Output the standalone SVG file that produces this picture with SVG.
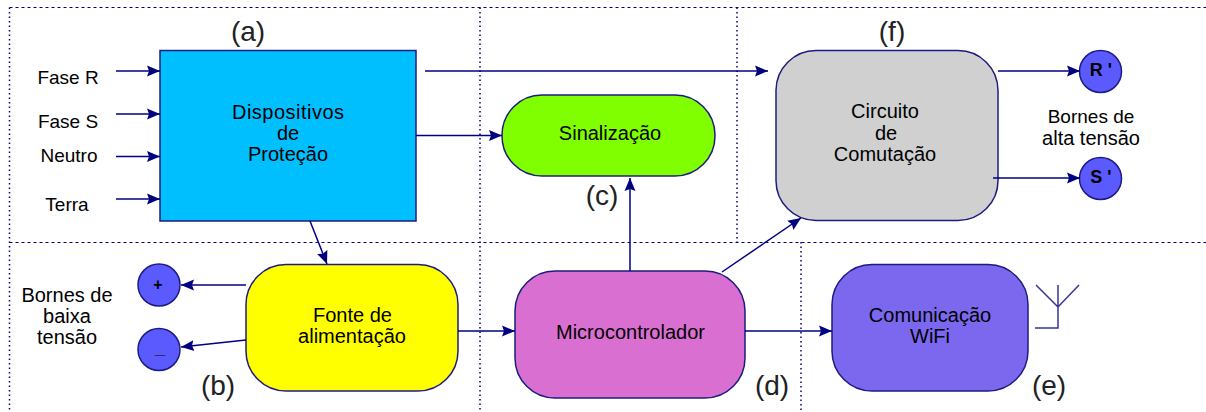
<svg xmlns="http://www.w3.org/2000/svg" width="1206" height="412" viewBox="0 0 1206 412">
<style>
.grid{fill:none;stroke:#000080;stroke-width:1;stroke-dasharray:3 3}
.vgrid{fill:none;stroke:#000080;stroke-width:1.500;stroke-dasharray:1.500 3}
.c{fill:none;stroke:#000080;stroke-width:1.500}
.a{marker-end:url(#arr)}
.n{stroke:#1c1c80;stroke-width:1.500}
text{font-family:"Liberation Sans",Arial,sans-serif;font-size:20px;fill:#000;text-anchor:middle}
.s{font-size:19px}
.l{font-size:28px;fill:#222}
.t{font-weight:bold;font-size:18px}
</style>
<defs>
<marker id="arr" markerUnits="userSpaceOnUse" markerWidth="14" markerHeight="12" refX="13" refY="6" orient="auto"><path d="M0 0.500L13 6L0 11.500L2 6Z" fill="#000080"/></marker>
</defs>
<rect width="1206" height="412" fill="#fff"/>
<g id="frames">
<path class="grid" d="M9.500 7.500H1206M9.500 242.500H1206"/>
<path class="vgrid" d="M9.500 7.500V410M480 7.500V410M737 7.500V242M801 242V410"/>
</g>
<g id="protecao">
<rect class="n" x="160" y="50.500" width="256" height="170.500" fill="#00bfff"/>
<text x="288" y="119" textLength="112">Dispositivos</text><text x="288" y="140">de</text><text x="288" y="161">Proteção</text>
</g>
<g id="sinalizacao">
<rect class="n" x="502" y="95" width="213" height="81" rx="40" fill="#80ff00"/>
<text x="610" y="140">Sinalização</text>
</g>
<g id="comutacao">
<rect class="n" x="776" y="50.500" width="222" height="170" rx="40" fill="#d0d0d0"/>
<text x="885" y="118">Circuito</text><text x="886" y="140">de</text><text x="885" y="161">Comutação</text>
</g>
<g id="fonte">
<rect class="n" x="246" y="264.500" width="212" height="126.500" rx="40" fill="#ffff00"/>
<text x="352.500" y="322">Fonte de</text><text x="352" y="343">alimentação</text>
</g>
<g id="micro">
<rect class="n" x="515" y="271" width="230" height="127" rx="40" fill="#da6fd2"/>
<text x="630.500" y="339">Microcontrolador</text>
</g>
<g id="wifi">
<rect class="n" x="832" y="264.500" width="196" height="126.500" rx="40" fill="#7b68ee"/>
<text x="930" y="322">Comunicação</text><text x="930" y="343">WiFi</text>
</g>
<g id="antena"><path d="M1058 285V328H1035M1036 285L1058 307L1079 285" fill="none" stroke="#34349a" stroke-width="1.500"/></g>
<g id="mais"><circle class="n" cx="159" cy="285" r="21" fill="#5a5aff"/><text class="t" x="158" y="289.500" style="font-size:16px">+</text></g>
<g id="menos"><circle class="n" cx="159" cy="349.500" r="21" fill="#5a5aff"/><text class="t" x="160" y="354">_</text></g>
<g id="r"><circle class="n" cx="1100.500" cy="71.500" r="21" fill="#5a5aff"/><text class="t" x="1101" y="76">R '</text></g>
<g id="s"><circle class="n" cx="1100.500" cy="178.500" r="21" fill="#5a5aff"/><text class="t" x="1101" y="183">S '</text></g>
<g id="connectors">
<path class="c a" d="M116 71H160"/>
<path class="c a" d="M116 114H160"/>
<path class="c a" d="M116 156.500H160"/>
<path class="c a" d="M116 199H160"/>
<path class="c a" d="M425 71H768"/>
<path class="c a" d="M416 135.500H502"/>
<path class="c a" d="M998 71H1080"/>
<path class="c a" d="M993 178H1080"/>
<path class="c a" d="M310 221L327 264"/>
<path class="c a" d="M246 285H181"/>
<path class="c a" d="M246 340L181 347"/>
<path class="c a" d="M458 331H515"/>
<path class="c a" d="M630 271V178"/>
<path class="c a" d="M722 272L801 218"/>
<path class="c a" d="M745 331H832"/>
</g>
<g id="labels">
<text class="s" x="68" y="84">Fase R</text><text class="s" x="68" y="128">Fase S</text><text class="s" x="69" y="162">Neutro</text><text class="s" x="67" y="211">Terra</text>
<text x="67" y="302">Bornes de</text><text x="67" y="323">baixa</text><text x="67" y="344">tensão</text>
<text class="s" x="1091" y="123">Bornes de</text><text x="1091" y="145">alta tensão</text>
<text class="l" x="248" y="41">(a)</text><text class="l" x="218" y="395">(b)</text><text class="l" x="602" y="205">(c)</text><text class="l" x="772" y="395">(d)</text><text class="l" x="1049" y="395">(e)</text><text class="l" x="892" y="41">(f)</text>
</g>
</svg>
